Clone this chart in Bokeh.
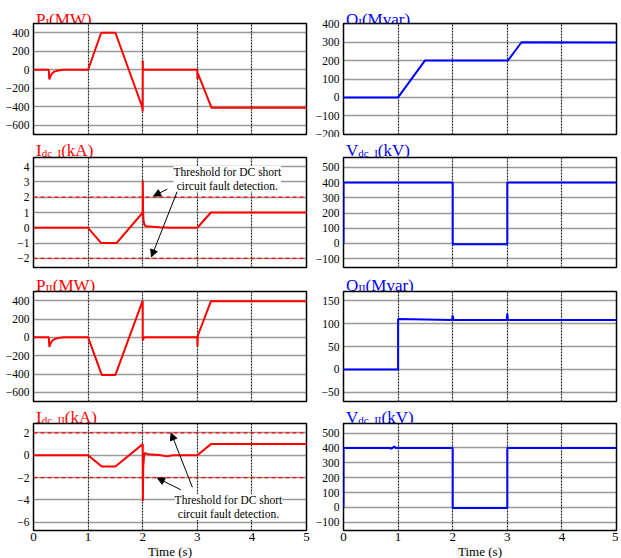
from bokeh.plotting import figure
from bokeh.layouts import column, row
from bokeh.models import Label, Span, Arrow, NormalHead, FixedTicker, Range1d
from bokeh.core.properties import value
from bokeh.embed import file_html
from bokeh.resources import INLINE

# ---------------- data (time in s) ----------------
t_P1 = [0, 0.28, 0.29, 0.31, 0.34, 0.38, 0.45, 0.55, 1.0, 1.24, 1.5, 1.99, 2.0, 2.001, 2.004, 2.01, 3.0, 3.003, 3.01, 3.26, 5.0]
P1 = [0, 0, -105, -70, -40, -20, -8, 0, 0, 400, 400, -400, -450, 100, 10, 0, 0, -100, -40, -410, -410]

t_Q1 = [0, 1.0, 1.49, 3.01, 3.26, 5.0]
Q1 = [0, 0, 200, 200, 300, 298]

t_I1 = [0, 1.0, 1.24, 1.52, 1.99, 2.0, 2.002, 2.006, 2.015, 2.03, 2.06, 2.3, 2.5, 3.0, 3.25, 5.0]
I1 = [0, 0, -1.0, -1.0, 0.95, 1.0, 3.1, 1.2, 0.5, 0.2, 0.1, 0.04, 0.0, 0.0, 1.0, 1.0]

t_V1 = [0, 0.0, 2.0, 2.0, 3.0, 3.0, 5.0]
V1 = [0, 400, 400, -5, -5, 400, 400]

t_P2 = [0, 0.28, 0.29, 0.31, 0.34, 0.38, 0.45, 0.55, 1.0, 1.25, 1.5, 2.0, 2.001, 2.004, 2.01, 2.03, 3.0, 3.003, 3.01, 3.25, 5.0]
P2 = [0, 0, -105, -70, -40, -20, -8, 0, 0, -410, -410, 400, 0, -30, -20, 0, 0, -100, 20, 395, 395]

t_Q2 = [0, 1.0, 1.0, 1.99, 2.0, 2.01, 2.99, 3.0, 3.01, 5.0]
Q2 = [0, 0, 110, 108, 118, 108, 108, 122, 108, 108]

t_I2 = [0, 1.0, 1.25, 1.5, 2.0, 2.003, 2.01, 2.03, 2.1, 2.3, 2.45, 2.55, 3.0, 3.25, 5.0]
I2 = [0, 0, -1.0, -1.0, 1.0, -4.1, -1.0, 0.2, 0.1, 0.02, -0.1, 0.0, 0.0, 1.0, 1.0]

t_V2 = [0, 0.0, 0.85, 0.88, 0.93, 0.96, 2.0, 2.0, 3.0, 3.0, 5.0]
V2 = [0, 400, 400, 395, 410, 400, 400, -5, -5, 400, 400]

thresholds = [2, -2]
x_ticks = [0, 1, 2, 3, 4, 5]
yt_P = [-600, -400, -200, 0, 200, 400]
yt_Q1 = [-200, -100, 0, 100, 200, 300, 400]
yt_I1 = [-2, -1, 0, 1, 2, 3, 4]
yt_V = [-100, 0, 100, 200, 300, 400, 500]
yt_Q2 = [-50, 0, 50, 100, 150]
yt_I2 = [-6, -4, -2, 0, 2]

RED = "#ff0000"
BLUE = "#0000ff"
FONT = "Liberation Serif"

# Times-like glyph widths (em)
CW = {"P": .556, "I": .333, "Q": .722, "V": .722, "(": .333, ")": .333, "M": .889,
      "W": .944, "v": .5, "a": .444, "r": .333, "k": .5, "A": .722, "d": .5, "c": .444, "_": .5}


def tw(s, size):
    return sum(CW.get(ch, .5) for ch in s) * size


# geometry
FW = 273
L_BL, L_BR = 33, 4
R_BL, R_BR = 33, 2
LW = L_BL + FW + L_BR
RW = R_BL + FW + R_BR
OV = 8          # plot canvas overlaps the title strip by this much
PT = 8          # plot top border (so frame top == strip bottom)
PB = 3          # plot bottom border (rows 1-3)
rows_T = [23, 20, 21, 19]       # title strip heights
rows_B = [4.0, 7.0, 6.5, 6.5]   # title baselines above the frame top
rows_F = [111, 110, 110, 107]   # frame heights


def title_fig(width, height, base, bl, main, sub, rest, color):
    t = figure(width=width, height=height, frame_width=width, frame_height=height,
               x_range=Range1d(0, width), y_range=Range1d(0, height),
               x_axis_type=None, y_axis_type=None, output_backend="svg", toolbar_location=None,
               min_border=0, min_border_left=0, min_border_right=0, min_border_top=0, min_border_bottom=0)
    t.outline_line_color = None
    t.grid.visible = False
    t.background_fill_color = None
    t.border_fill_color = None
    big, small = 17, 11
    x = bl + 2.5
    for txt, size, yy in [(main, big, base), (sub, small, base - 2.5), (rest, big, base)]:
        t.text(x=[x], y=[yy], text=[txt], text_font=value(FONT), text_font_size=f"{size}px",
               text_color=color, text_baseline="alphabetic", text_align="left")
        x += tw(txt, size)
    return t


def make_fig(bl, br, fh, bb, yr, yticks, show_x):
    p = figure(frame_width=FW, frame_height=fh, output_backend="svg", toolbar_location=None,
               x_range=Range1d(0, 5), y_range=Range1d(*yr),
               min_border_left=bl, min_border_right=br, min_border_top=PT, min_border_bottom=bb,
               margin=(-OV, 0, 0, 0))
    p.outline_line_color = "black"
    p.outline_line_width = 1.5
    p.outline_line_alpha = 1
    p.background_fill_color = "white"
    p.border_fill_color = None
    p.xaxis.ticker = FixedTicker(ticks=x_ticks)
    p.yaxis.ticker = FixedTicker(ticks=yticks)
    p.xgrid.ticker = FixedTicker(ticks=[1, 2, 3, 4])
    p.ygrid.ticker = FixedTicker(ticks=yticks)
    p.xgrid.grid_line_color = "#222222"
    p.xgrid.grid_line_width = 1.2
    p.xgrid.grid_line_dash = "2 1"
    p.ygrid.grid_line_color = "#333333"
    p.ygrid.grid_line_width = 1.7
    p.ygrid.grid_line_dash = "1 1"
    for ax in p.yaxis:
        ax.axis_line_color = None
        ax.major_tick_in = 0
        ax.major_tick_out = 0
        ax.minor_tick_line_color = None
        ax.major_label_text_font = FONT
        ax.major_label_text_font_size = "11.5px"
        ax.major_label_text_color = "black"
        ax.major_label_standoff = 4
    if show_x:
        for ax in p.xaxis:
            ax.axis_line_color = None
            ax.major_tick_in = 0
            ax.major_tick_out = 0
            ax.minor_tick_line_color = None
            ax.major_label_text_font = FONT
            ax.major_label_text_font_size = "13px"
            ax.major_label_text_color = "black"
            ax.major_label_standoff = 2
            ax.axis_label = "Time (s)"
            ax.axis_label_text_font = FONT
            ax.axis_label_text_font_size = "13px"
            ax.axis_label_text_font_style = "normal"
            ax.axis_label_text_color = "black"
            ax.axis_label_standoff = 0
    else:
        p.xaxis.visible = False
    return p


def add_threshold_note(p, tx, ty, arrows):
    for (xs, ys, xe, ye) in arrows:
        p.add_layout(Arrow(end=NormalHead(size=7, fill_color="black", line_color="black"),
                           x_start=xs, y_start=ys, x_end=xe, y_end=ye, line_width=1, line_color="black"))
    p.add_layout(Label(x=tx, y=ty, text="Threshold for DC short\ncircuit fault detection.",
                       text_font=FONT, text_font_size="11.5px", text_align="center", text_baseline="middle",
                       text_line_height=1.15, background_fill_color="white", text_color="black"))


# Row 1
t1 = title_fig(LW, rows_T[0], rows_B[0], L_BL, "P", "I", "(MW)", RED)
p1 = make_fig(L_BL, L_BR, rows_F[0], PB, (-700, 500), yt_P, False)
p1.line(t_P1, P1, line_color=RED, line_width=2)

t2 = title_fig(RW, rows_T[0], rows_B[0], R_BL, "Q", "I", "(Mvar)", BLUE)
p2 = make_fig(R_BL, R_BR, rows_F[0], PB, (-202, 402), yt_Q1, False)
p2.line(t_Q1, Q1, line_color=BLUE, line_width=2)

# Row 2
t3 = title_fig(LW, rows_T[1], rows_B[1], L_BL, "I", "dc_I", "(kA)", RED)
p3 = make_fig(L_BL, L_BR, rows_F[1], PB, (-2.6, 4.6), yt_I1, False)
for th in thresholds:
    p3.add_layout(Span(location=th, dimension="width", line_color=RED, line_width=1.3, line_dash="4 3"))
p3.line(t_I1, I1, line_color=RED, line_width=2)
add_threshold_note(p3, 3.55, 3.2, [(2.45, 2.53, 2.2, 2.08), (2.64, 2.45, 2.16, -1.9)])

t4 = title_fig(RW, rows_T[1], rows_B[1], R_BL, "V", "dc_I", "(kV)", BLUE)
p4 = make_fig(R_BL, R_BR, rows_F[1], PB, (-158, 565), yt_V, False)
p4.line(t_V1, V1, line_color=BLUE, line_width=2)

# Row 3
t5 = title_fig(LW, rows_T[2], rows_B[2], L_BL, "P", "II", "(MW)", RED)
p5 = make_fig(L_BL, L_BR, rows_F[2], PB, (-700, 500), yt_P, False)
p5.line(t_P2, P2, line_color=RED, line_width=2)

t6 = title_fig(RW, rows_T[2], rows_B[2], R_BL, "Q", "II", "(Mvar)", BLUE)
p6 = make_fig(R_BL, R_BR, rows_F[2], PB, (-70, 170), yt_Q2, False)
p6.line(t_Q2, Q2, line_color=BLUE, line_width=2)

# Row 4
t7 = title_fig(LW, rows_T[3], rows_B[3], L_BL, "I", "dc_II", "(kA)", RED)
p7 = make_fig(L_BL, L_BR, rows_F[3], 10, (-6.75, 2.85), yt_I2, True)
for th in thresholds:
    p7.add_layout(Span(location=th, dimension="width", line_color=RED, line_width=1.3, line_dash="4 3"))
p7.line(t_I2, I2, line_color=RED, line_width=2)
add_threshold_note(p7, 3.57, -4.66, [(2.91, -2.87, 2.52, 2.0), (2.70, -3.1, 2.27, -2.05)])

t8 = title_fig(RW, rows_T[3], rows_B[3], R_BL, "V", "dc_II", "(kV)", BLUE)
p8 = make_fig(R_BL, R_BR, rows_F[3], 10, (-156, 565), yt_V, True)
p8.line(t_V2, V2, line_color=BLUE, line_width=2)

layout = column(
    row(t1, t2), row(p1, p2),
    row(t3, t4), row(p3, p4),
    row(t5, t6), row(p5, p6),
    row(t7, t8), row(p7, p8),
)

open("out.html", "w").write(file_html(layout, INLINE))
